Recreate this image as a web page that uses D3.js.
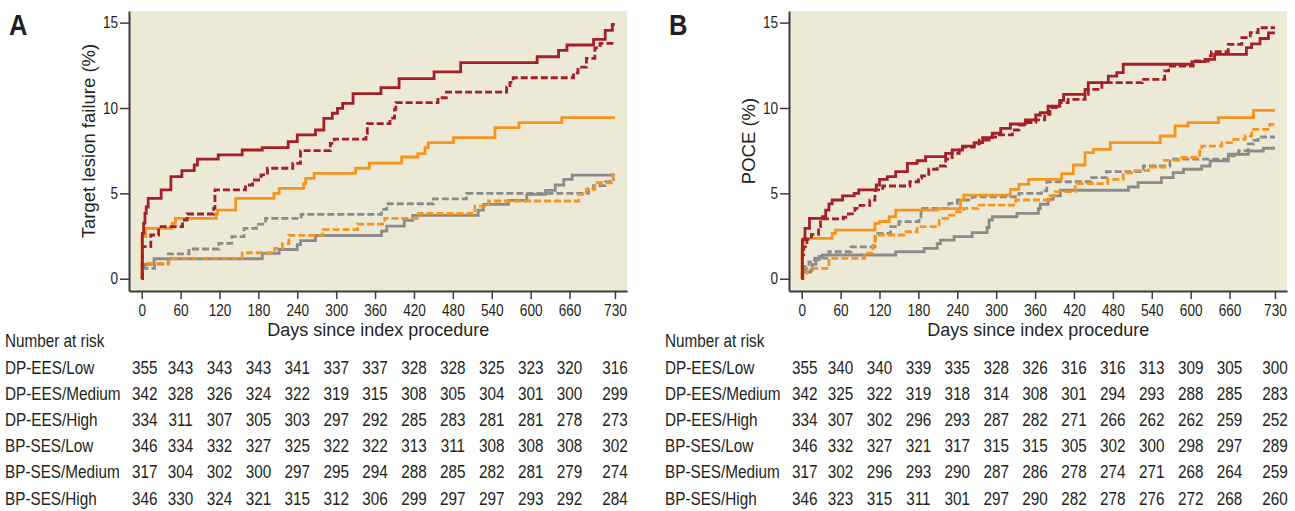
<!DOCTYPE html>
<html>
<head>
<meta charset="utf-8">
<script src="https://cdn.jsdelivr.net/npm/d3@7"></script>
<style>
  body { margin: 0; background: #fff; }
  svg text { fill: #231f20; font-family: "Liberation Sans", Arial, sans-serif; }
</style>
</head>
<body>
<svg width="1295" height="511"></svg>
<script>
// axis ticks
const dayTicks = [0, 60, 120, 180, 240, 300, 360, 420, 480, 540, 600, 660, 730];
const pctTicks = [0, 5, 10, 15];
const groups = ["DP-EES/Low", "DP-EES/Medium", "DP-EES/High", "BP-SES/Low", "BP-SES/Medium", "BP-SES/High"];

// number at risk, panel A (rows follow groups)
const riskTlf = [
  [355, 343, 343, 343, 341, 337, 337, 328, 328, 325, 323, 320, 316],
  [342, 328, 326, 324, 322, 319, 315, 308, 305, 304, 301, 300, 299],
  [334, 311, 307, 305, 303, 297, 292, 285, 283, 281, 281, 278, 273],
  [346, 334, 332, 327, 325, 322, 322, 313, 311, 308, 308, 308, 302],
  [317, 304, 302, 300, 297, 295, 294, 288, 285, 282, 281, 279, 274],
  [346, 330, 324, 321, 315, 312, 306, 299, 297, 297, 293, 292, 284]
];
// number at risk, panel B
const riskPoce = [
  [355, 340, 340, 339, 335, 328, 326, 316, 316, 313, 309, 305, 300],
  [342, 325, 322, 319, 318, 314, 308, 301, 294, 293, 288, 285, 283],
  [334, 307, 302, 296, 293, 287, 282, 271, 266, 262, 262, 259, 252],
  [346, 332, 327, 321, 317, 315, 315, 305, 302, 300, 298, 297, 289],
  [317, 302, 296, 293, 290, 287, 286, 278, 274, 271, 268, 264, 259],
  [346, 323, 315, 311, 301, 297, 290, 282, 278, 276, 272, 268, 260]
];

// cumulative incidence [day, %], panel A: target lesion failure
const tlfDpLow = [[0,0],[0.5,0.7],[5,0.84],[19,1.17],[186,1.48],[212,1.71],[240,2.0],[245,2.23],[268,2.53],[370,2.79],[378,3.08],[405,3.42],[418,3.71],[519,4.02],[527,4.35],[566,4.59],[594,4.94],[623,5.17],[638,5.49],[651,5.82],[664,6.07],[730,6.07]];
const tlfBpLow = [[0,0],[1,0.6],[20,0.85],[41,1.45],[73,1.74],[119,2.07],[139,2.46],[158,2.95],[177,3.2],[191,3.53],[246,3.77],[370,4.06],[378,4.39],[450,4.68],[501,5.0],[689,5.27],[697,5.45],[715,5.69],[726,5.8],[730,5.8]];
const tlfDpMed = [[0,0],[0.5,2.46],[6,2.95],[47,3.24],[52,3.53],[115,3.83],[117,4.02],[145,4.7],[204,5.0],[212,5.29],[250,5.58],[253,5.88],[266,6.17],[330,6.47],[351,6.77],[401,7.13],[426,7.33],[437,7.68],[442,7.97],[481,8.26],[545,8.85],[582,9.14],[648,9.43],[730,9.43]];
const tlfBpMed = [[0,0],[0.5,0.9],[42,1.19],[155,1.52],[205,1.77],[217,2.05],[227,2.54],[279,2.88],[333,3.2],[375,3.53],[427,3.82],[514,4.25],[535,4.55],[674,4.94],[686,5.23],[699,5.62],[727,6.25],[730,6.25]];
const tlfDpHigh = [[0,0],[1,2.65],[3,3.25],[5,3.83],[7,4.2],[10,4.7],[30,5.2],[45,5.98],[62,6.33],[81,6.66],[86,7.0],[118,7.25],[155,7.54],[186,7.68],[226,8.03],[240,8.42],[268,8.71],[281,9.39],[294,9.69],[302,9.98],[310,10.27],[326,10.84],[369,11.19],[397,11.72],[451,12.11],[492,12.66],[610,13.0],[643,13.37],[656,13.69],[697,14.02],[715,14.55],[726,14.9],[730,14.9]];
const tlfBpHigh = [[0,0],[1,1.88],[14,2.56],[26,3.05],[63,3.44],[70,3.79],[111,4.12],[113,5.2],[160,5.49],[171,5.78],[184,6.08],[194,6.47],[233,6.76],[245,7.5],[291,7.93],[297,8.18],[346,8.52],[348,9.08],[383,9.4],[390,9.92],[392,10.31],[457,10.6],[470,10.93],[563,11.22],[568,11.5],[573,11.77],[666,12.06],[673,12.39],[686,12.9],[699,13.52],[707,13.78],[730,13.78]];

// panel B: POCE
const poceDpLow = [[0,0],[1,0.39],[14,0.5],[16,0.84],[22,1.1],[27,1.3],[32,1.39],[145,1.58],[189,1.78],[209,2.05],[214,2.26],[235,2.46],[263,2.7],[286,3.0],[289,3.44],[294,3.63],[332,3.83],[365,4.1],[368,4.36],[380,4.65],[388,4.85],[399,5.18],[504,5.37],[519,5.63],[555,5.92],[573,6.21],[589,6.41],[617,6.6],[630,6.9],[658,7.29],[689,7.48],[712,7.64],[730,7.64]];
const poceBpLow = [[0,0],[1,0.4],[5,0.7],[11,0.99],[20,1.2],[42,1.58],[76,1.87],[113,2.65],[137,3.05],[150,3.34],[181,3.63],[184,4.12],[227,4.41],[240,4.61],[263,4.8],[335,5.0],[370,5.15],[378,5.68],[447,5.92],[470,6.27],[527,6.6],[568,7.0],[658,7.2],[674,7.5],[689,7.9],[697,8.1],[704,8.3],[730,8.3]];
const poceDpMed = [[0,0],[0.5,1.7],[2,2.36],[47,2.65],[52,2.85],[113,3.24],[120,3.35],[135,3.63],[145,4.02],[210,4.1],[245,4.61],[250,4.9],[322,5.23],[335,5.52],[350,5.82],[401,6.15],[419,6.66],[437,7.38],[450,7.58],[476,7.97],[553,8.36],[576,8.95],[596,9.14],[643,9.43],[697,9.86],[730,9.86]];
const poceBpMed = [[0,0],[2,0.31],[8,0.61],[42,1.19],[97,1.5],[110,1.97],[114,2.56],[158,2.75],[178,3.05],[212,3.53],[225,3.72],[235,3.92],[250,4.12],[272,4.31],[330,4.61],[383,4.85],[391,5.1],[422,5.57],[472,5.82],[496,6.2],[514,6.33],[535,6.53],[560,6.93],[586,7.1],[614,7.48],[617,7.77],[648,7.97],[663,8.16],[684,8.36],[694,8.75],[722,9.04],[730,9.04]];
const poceDpHigh = [[0,0],[1,2.27],[5,2.95],[12,3.53],[32,3.63],[37,4.02],[42,4.38],[47,4.61],[63,4.85],[81,5.0],[88,5.2],[115,5.49],[120,5.82],[132,5.98],[145,6.27],[163,6.76],[178,6.91],[191,7.15],[222,7.34],[232,7.54],[248,7.77],[266,7.97],[279,8.26],[294,8.52],[307,8.81],[322,9.06],[345,9.3],[361,9.59],[368,9.72],[380,10.1],[398,10.45],[404,10.8],[437,11.09],[442,11.48],[473,11.87],[486,12.07],[496,12.56],[602,12.71],[622,12.85],[637,13.14],[686,13.53],[694,13.76],[707,14.07],[720,14.4],[730,14.4]];
const poceBpHigh = [[0,0],[1,1.4],[3,1.87],[8,2.3],[15,2.6],[26,3.05],[29,3.5],[64,3.6],[72,3.8],[82,4.12],[90,4.3],[105,4.6],[113,5.2],[125,5.43],[167,5.68],[180,5.9],[185,6.02],[196,6.41],[209,6.6],[222,7.0],[232,7.34],[243,7.55],[248,7.71],[266,7.9],[274,8.12],[289,8.3],[302,8.42],[325,8.71],[335,9.0],[345,9.15],[361,9.3],[375,9.63],[383,10.02],[398,10.31],[411,10.5],[437,10.8],[442,11.09],[463,11.48],[525,11.68],[560,12.17],[566,12.46],[604,12.75],[627,13.05],[632,13.3],[658,13.73],[679,14.12],[692,14.41],[704,14.7],[730,14.7]];

const RED = "#a51f26", ORANGE = "#f7941e", GRAY = "#8b8b8b";
const NARROW = 0.85; // no narrow font installed, squeeze Liberation Sans instead
const svg = d3.select("svg");

// condensed text placed at (x, y)
function narrowText(parent, x, y, size, str, anchor) {
  return parent.append("text")
    .attr("transform", `translate(${x},${y}) scale(${NARROW},1)`)
    .attr("text-anchor", anchor || "start")
    .attr("font-size", size)
    .text(str);
}

function drawPanel(ox, letter, yTitle, curves, risk) {
  const x = d3.scaleLinear().domain([-19.6, 748.6]).range([ox + 129, ox + 627]);
  const y = d3.scaleLinear().domain([-0.72, 15.68]).range([291, 11]);

  svg.append("rect")
    .attr("x", ox + 129).attr("y", 11)
    .attr("width", 498).attr("height", 280)
    .attr("fill", "#ece9d7");

  const line = d3.line().curve(d3.curveStepAfter)
    .x(d => x(d[0])).y(d => y(d[1]));

  curves.forEach(c => {
    svg.append("path")
      .attr("d", line(c.data))
      .attr("fill", "none")
      .attr("stroke", c.color)
      .attr("stroke-width", 2.8)
      .attr("stroke-dasharray", c.dashed ? "7,3" : null);
  });

  // axes
  const yAxis = svg.append("g")
    .attr("transform", `translate(${ox + 129},0)`)
    .call(d3.axisLeft(y).tickValues(pctTicks).tickSize(9).tickSizeOuter(0).tickPadding(2));
  yAxis.selectAll(".tick text").attr("x", -11 / NARROW);
  const xAxis = svg.append("g")
    .attr("transform", "translate(0,291)")
    .call(d3.axisBottom(x).tickValues(dayTicks).tickSize(8).tickSizeOuter(0).tickPadding(6));
  [yAxis, xAxis].forEach(a => {
    a.select(".domain").attr("stroke", "#3c3c3c").attr("stroke-width", 2);
    a.selectAll(".tick line").attr("stroke", "#3c3c3c").attr("stroke-width", 1.5);
    a.selectAll("text")
      .attr("font-size", 16)
      .attr("font-family", "Liberation Sans, Arial, sans-serif")
      .attr("fill", "#231f20")
      .attr("transform", `scale(${NARROW},1)`);
  });

  svg.append("text")
    .attr("transform", `translate(${ox + 95},141) rotate(-90)`)
    .attr("text-anchor", "middle")
    .attr("font-size", 18.5)
    .text(yTitle);

  svg.append("text")
    .attr("x", x(365)).attr("y", 336)
    .attr("text-anchor", "middle")
    .attr("font-size", 18)
    .text("Days since index procedure");

  narrowText(svg, ox + 9, 35, 30, letter).attr("font-weight", "bold");

  // number at risk table
  narrowText(svg, ox + 5, 347, 18, "Number at risk");

  groups.forEach((g, i) => {
    const ty = 373.5 + i * 26.2;
    narrowText(svg, ox + 5, ty, 18, g);
    risk[i].forEach((v, j) => {
      narrowText(svg, x(dayTicks[j]) + (j === 0 ? 3 : 0), ty, 18, v, "middle");
    });
  });
}

drawPanel(0, "A", "Target lesion failure (%)", [
  { data: tlfDpLow, color: GRAY, dashed: false },
  { data: tlfBpLow, color: GRAY, dashed: true },
  { data: tlfBpMed, color: ORANGE, dashed: true },
  { data: tlfDpMed, color: ORANGE, dashed: false },
  { data: tlfBpHigh, color: RED, dashed: true },
  { data: tlfDpHigh, color: RED, dashed: false }
], riskTlf);

drawPanel(660, "B", "POCE (%)", [
  { data: poceDpLow, color: GRAY, dashed: false },
  { data: poceBpLow, color: GRAY, dashed: true },
  { data: poceBpMed, color: ORANGE, dashed: true },
  { data: poceDpMed, color: ORANGE, dashed: false },
  { data: poceBpHigh, color: RED, dashed: true },
  { data: poceDpHigh, color: RED, dashed: false }
], riskPoce);
</script>
</body>
</html>
